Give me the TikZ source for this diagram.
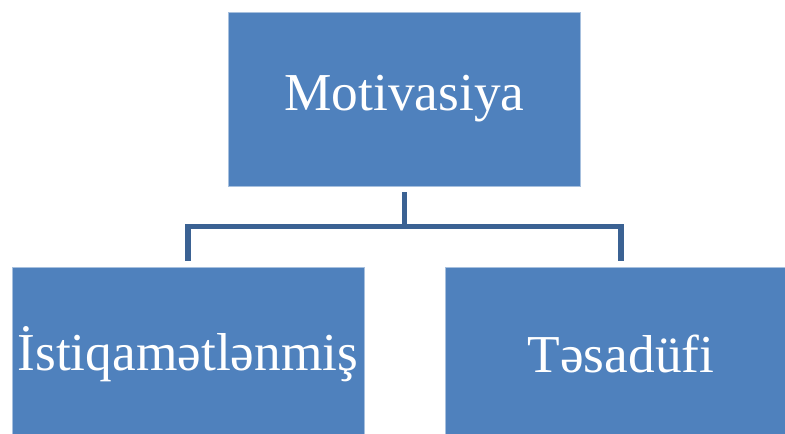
\documentclass[tikz,border=0pt]{standalone}
\usepackage{fontspec}
\setmainfont{Liberation Serif}
\definecolor{boxblue}{HTML}{4F81BD}
\definecolor{boxedge}{HTML}{A7C0DE}
\definecolor{linkblue}{HTML}{3B6293}
\begin{document}
\begin{tikzpicture}[x=0.75pt,y=-0.75pt,
  orgbox/.style={rectangle, fill=boxblue, draw=boxedge, line width=0.6pt,
    minimum width=264pt, minimum height=130.5pt, inner sep=0pt,
    text=white, font=\fontsize{40}{48}\selectfont},
  link/.style={draw=linkblue, line width=3.8pt, shorten <=4.5pt, shorten >=4.5pt}]
  \useasboundingbox (0,0) rectangle (785,434);
  \clip (0,0) rectangle (785,434);
  \fill[white] (0,0) rectangle (785,434);

  % boxes
  \node[orgbox] (top) at (404.5,99) {Motivasiya};
  \node[orgbox] (left) at (188,354) {İstiqamətlənmiş};
  \node[orgbox] (right) at (621,354) {Təsadüfi};

  % connectors
  \coordinate (bus) at (404.5,226.5);
  \draw[link] (top.south) -- (bus) -| (left.north);
  \draw[link] (top.south) -- (bus) -| (right.north);
\end{tikzpicture}
\end{document}
